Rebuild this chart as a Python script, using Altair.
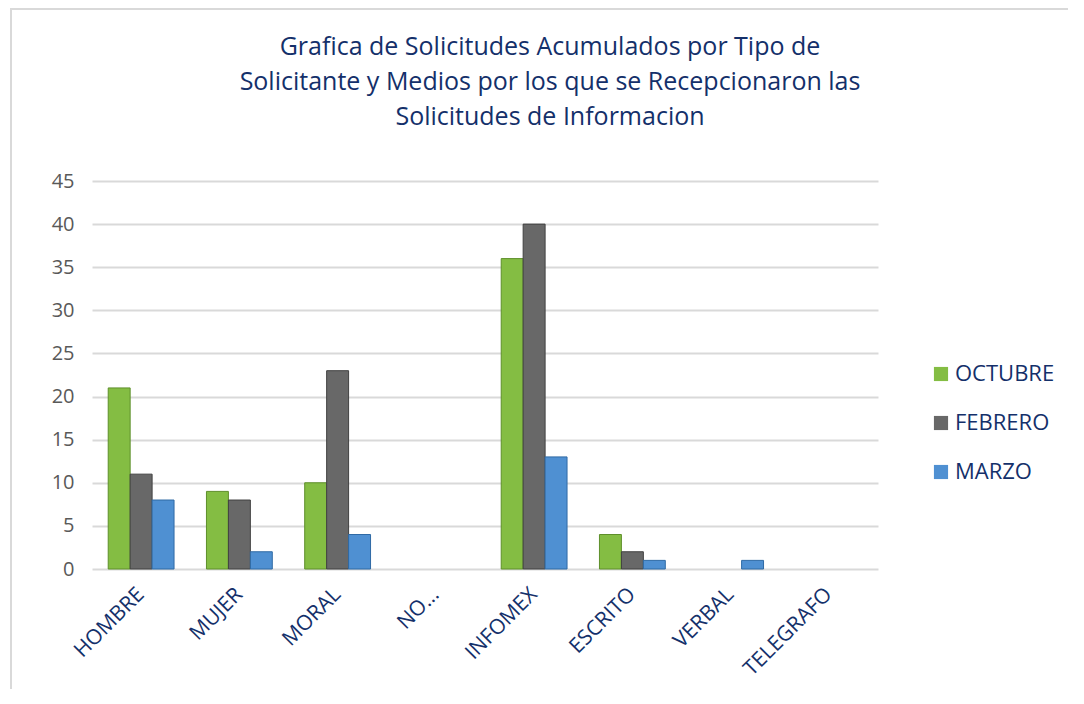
import altair as alt
import pandas as pd

categories = ["HOMBRE", "MUJER", "MORAL", "NO...", "INFOMEX", "ESCRITO", "VERBAL", "TELEGRAFO"]
series = ["OCTUBRE", "FEBRERO", "MARZO"]
octubre = [21, 9, 10, 0, 36, 4, 0, 0]
febrero = [11, 8, 23, 0, 40, 2, 0, 0]
marzo = [8, 2, 4, 0, 13, 1, 1, 0]
title_lines = ["Grafica de Solicitudes Acumulados por Tipo de",
               "Solicitante y Medios por los que se Recepcionaron las",
               "Solicitudes de Informacion"]
colors = ["#84BD43", "#686868", "#4F90D2"]
strokes = ["#5E8F2A", "#404040", "#2F6AA5"]

rows = []
for name, vals in zip(series, [octubre, febrero, marzo]):
    for c, v in zip(categories, vals):
        rows.append({"cat": c, "serie": name, "val": v})
df = pd.DataFrame(rows)

NAVY = "#14306A"

bars = alt.Chart(df).transform_filter("datum.val > 0").mark_bar(strokeWidth=1).encode(
    x=alt.X("cat:N", sort=categories, title=None,
            scale=alt.Scale(domain=categories, paddingInner=0.33, paddingOuter=0.165),
            axis=alt.Axis(labelAngle=-45, labelAlign="right", labelBaseline="middle",
                          labelColor=NAVY, labelFontSize=21, labelFont="Open Sans",
                          labelPadding=22, ticks=False, domain=False, grid=False)),
    xOffset=alt.XOffset("serie:N", sort=series,
                        scale=alt.Scale(domain=series, paddingInner=0, paddingOuter=0)),
    y=alt.Y("val:Q", title=None,
            scale=alt.Scale(domain=[0, 45], nice=False),
            axis=alt.Axis(values=list(range(0, 50, 5)), labelColor="#595959", labelFontSize=20,
                          labelFont="Open Sans", labelPadding=18, ticks=False, domain=False,
                          gridColor="#D9D9D9", gridWidth=2)),
    color=alt.Color("serie:N", sort=series, title=None,
                    scale=alt.Scale(domain=series, range=colors),
                    legend=alt.Legend(orient="none", legendX=838, legendY=182,
                                      symbolType="square", symbolSize=200,
                                      symbolStrokeWidth=0, labelFontSize=22,
                                      labelFont="Open Sans", labelColor=NAVY,
                                      rowPadding=27, labelOffset=3)),
    stroke=alt.Stroke("serie:N", sort=series, scale=alt.Scale(domain=series, range=strokes), legend=None),
)

border = alt.Chart(pd.DataFrame({"k": [0]})).mark_rect(
    fill=None, stroke="#D9D9D9", strokeWidth=2
).encode(
    x=alt.value(-81), x2=alt.value(1200), y=alt.value(-172), y2=alt.value(700)
)

title = alt.Chart(pd.DataFrame({"t": [title_lines]})).mark_text(
    font="Open Sans", fontSize=25, color=NAVY, align="center", baseline="alphabetic",
    lineHeight=35
).encode(
    text="t:N", x=alt.value(458), y=alt.value(-126)
)

chart = alt.layer(border, title, bars).properties(
    width=786, height=388,
    padding={"left": 84, "top": 173, "right": 190, "bottom": 120},
    autosize=alt.AutoSizeParams(type="none"),
).configure_view(stroke=None)

chart.save("out.html", embed_options={"renderer": "svg", "actions": False})
